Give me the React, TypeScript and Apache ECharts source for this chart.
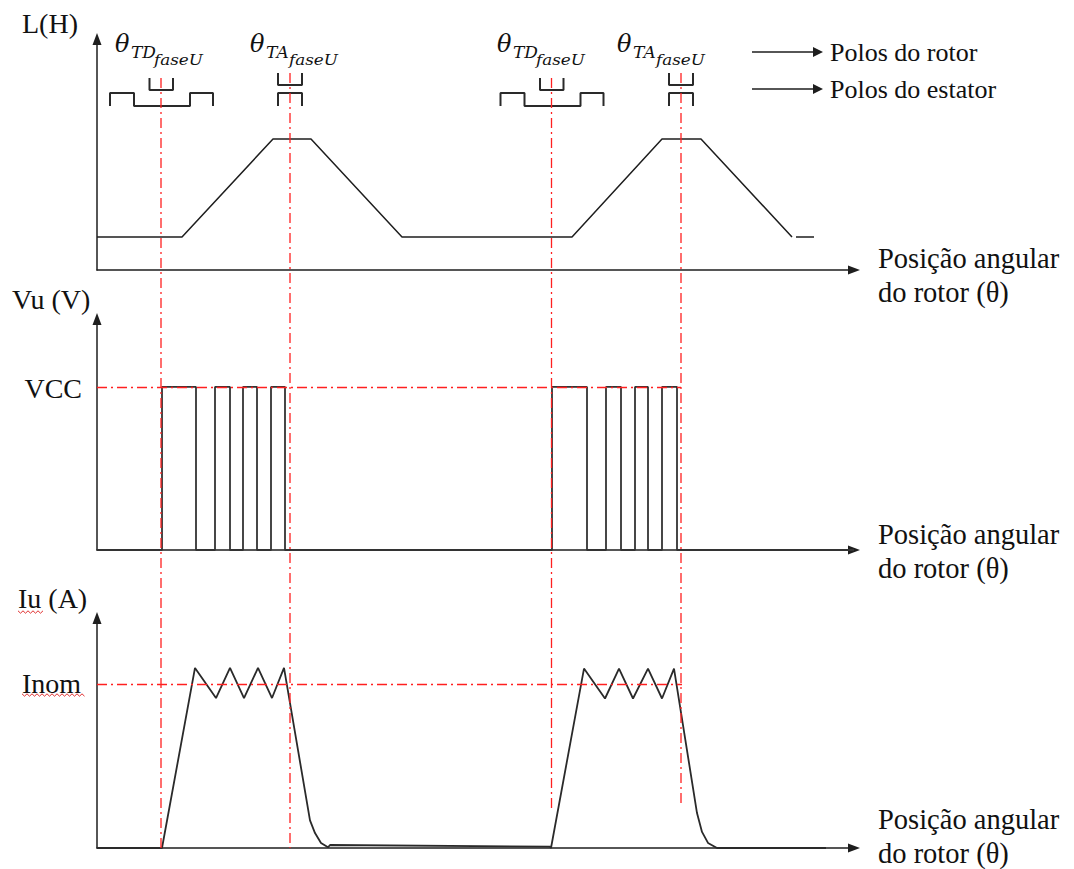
import React, { useEffect, useRef } from "react";
import * as echarts from "echarts";

// ---------- data (x in angular units, y in panel units 0..10) ----------
const X_MAX = 378.5;
const Y_MAX = 10;

// Inductance L(H)
const lTheta = [0, 42.5, 88, 107, 152.5, 237.5, 282.5, 302, 347.5];
const lValue = [1.43, 1.43, 5.67, 5.67, 1.43, 1.43, 5.67, 5.67, 1.43];
const lTailTheta = [349.5, 358.5];
const lTailValue = [1.43, 1.43];

// Phase voltage Vu (V): PWM pulse edges
const VCC = 7.06;
const pulseRise = [32.5, 59, 73, 87, 227.5, 254.5, 269, 282.5];
const pulseFall = [49.5, 66.5, 80, 94, 245, 262, 275.5, 290];

// Phase current Iu (A)
const INOM = 7.13;
const currentTheta = [
  0, 32.5, 49, 59.5, 66.5, 73.5, 80.5, 87.5, 93.5, 106.5, 109, 112, 115.5,
  116.5, 226.5, 227, 243.5, 254, 261, 268, 275.5, 282.5, 288.5, 300, 302.5,
  305.5, 310, 364.5,
];
const currentValue = [
  0, 0, 7.83, 6.52, 7.83, 6.52, 7.83, 6.52, 7.83, 1.2, 0.65, 0.22, 0.03,
  0.13, 0.06, 0, 7.8, 6.5, 7.8, 6.5, 7.8, 6.5, 7.8, 1.52, 0.7, 0.22, 0, 0,
];

// Switch-on (TD) and switch-off (TA) angles
const tdTheta = [32, 227.25];
const taTheta = [96.5, 292];

// ---------- layout ----------
const LEFT = 97;
const WIDTH = 757;
const tdGuideSpan = [
  [78, 848],
  [78, 812],
];
const taGuideSpan = [
  [73, 848],
  [73, 807],
];

const serif = "'Liberation Serif', 'Times New Roman', serif";
const mathFont = "'DejaVu Serif', serif";
const black = "#1e1e1e";
const red = "#ff2020";
const redDash = { color: red, width: 1.3, type: [10, 4, 2, 4] as number[] };
const axisLine = { color: black, width: 1.5 };

function zip(xs: number[], ys: number[]) {
  return xs.map((x, i) => [x, ys[i]]);
}

function voltageData() {
  const d: number[][] = [[0, 0]];
  pulseRise.forEach((r, i) => {
    const f = pulseFall[i];
    d.push([r, 0], [r, VCC], [f, VCC], [f, 0]);
  });
  d.push([X_MAX, 0]);
  return d;
}

function mkX(i: number, show: boolean) {
  return {
    type: "value",
    gridIndex: i,
    min: 0,
    max: X_MAX,
    show,
    axisLine: {
      show: true,
      onZero: false,
      symbol: ["none", "triangle"],
      symbolSize: [9, 12],
      lineStyle: axisLine,
    },
    axisTick: { show: false },
    axisLabel: { show: false },
    splitLine: { show: false },
  };
}
function mkY(i: number) {
  return {
    type: "value",
    gridIndex: i,
    min: 0,
    max: Y_MAX,
    axisLine: {
      show: true,
      onZero: false,
      symbol: ["none", "triangle"],
      symbolSize: [9, 12],
      lineStyle: axisLine,
    },
    axisTick: { show: false },
    axisLabel: { show: false },
    splitLine: { show: false },
  };
}

const lineBase = {
  type: "line",
  symbol: "none",
  showSymbol: false,
  silent: true,
  z: 3,
};

function txt(
  text: string,
  x: number,
  y: number,
  size: number,
  opts: any = {}
) {
  const { align = "left", family = serif, italic = false, scaleX = 1 } = opts;
  return {
    type: "text",
    x,
    y,
    scaleX,
    silent: true,
    style: {
      text,
      fontFamily: family,
      fontSize: size,
      fontStyle: italic ? "italic" : "normal",
      fill: "#111",
      align,
      textAlign: align,
      verticalAlign: "middle",
      textVerticalAlign: "middle",
    },
  };
}

function squiggle(x0: number, x1: number, y: number) {
  const pts: number[][] = [];
  let up = true;
  for (let x = x0; x <= x1; x += 2.5) {
    pts.push([x, up ? y - 1.2 : y + 1.2]);
    up = !up;
  }
  return {
    type: "polyline",
    silent: true,
    shape: { points: pts },
    style: { stroke: "#e03030", lineWidth: 1, fill: null },
  };
}

function arrowLegend(y: number, label: string) {
  return [
    {
      type: "line",
      silent: true,
      shape: { x1: 752, y1: y, x2: 815, y2: y },
      style: { stroke: black, lineWidth: 1.4 },
    },
    {
      type: "polygon",
      silent: true,
      shape: {
        points: [
          [813, y - 5],
          [823, y],
          [813, y + 5],
        ],
      },
      style: { fill: black },
    },
    txt(label, 830, y, 26),
  ];
}

function thetaLabel(x: number, sub: string) {
  return [
    txt("θ", x, 44, 24, { family: mathFont, italic: true }),
    txt(sub, x + 16, 52, 17, { family: mathFont, italic: true }),
    txt("faseU", x + 39, 60, 14, { family: mathFont, italic: true, scaleX: 1.2 }),
  ];
}

function buildOption() {
  const series: any[] = [];

  series.push({
    ...lineBase,
    xAxisIndex: 0,
    yAxisIndex: 0,
    data: zip(lTheta, lValue),
    lineStyle: { color: black, width: 1.5 },
  });
  series.push({
    ...lineBase,
    xAxisIndex: 0,
    yAxisIndex: 0,
    data: zip(lTailTheta, lTailValue),
    lineStyle: { color: black, width: 1.5 },
  });

  series.push({
    ...lineBase,
    xAxisIndex: 1,
    yAxisIndex: 1,
    data: voltageData(),
    lineStyle: { color: "#333", width: 1.8 },
    markLine: {
      silent: true,
      symbol: ["none", "none"],
      label: { show: false },
      lineStyle: redDash,
      data: [[{ coord: [0, VCC] }, { coord: [taTheta[1], VCC] }]],
    },
  });

  series.push({
    ...lineBase,
    xAxisIndex: 2,
    yAxisIndex: 2,
    data: zip(currentTheta, currentValue),
    lineStyle: { color: "#2a2a2a", width: 1.8 },
    markLine: {
      silent: true,
      symbol: ["none", "none"],
      label: { show: false },
      lineStyle: redDash,
      data: [[{ coord: [0, INOM] }, { coord: [taTheta[1] + 0.5, INOM] }]],
    },
  });

  // vertical guides (overlay grid, y = page pixel)
  tdTheta.forEach((t, i) => {
    series.push({
      ...lineBase,
      z: 4,
      xAxisIndex: 3,
      yAxisIndex: 3,
      data: [
        [t, tdGuideSpan[i][0]],
        [t, tdGuideSpan[i][1]],
      ],
      lineStyle: redDash,
    });
  });
  taTheta.forEach((t, i) => {
    series.push({
      ...lineBase,
      z: 4,
      xAxisIndex: 3,
      yAxisIndex: 3,
      data: [
        [t, taGuideSpan[i][0]],
        [t, taGuideSpan[i][1]],
      ],
      lineStyle: redDash,
    });
  });

  // pole sketches
  const poleStyle = { color: "#2a2a2a", width: 2 };
  tdTheta.forEach((c) => {
    series.push({
      ...lineBase,
      xAxisIndex: 3,
      yAxisIndex: 3,
      data: [
        [c - 25.5, 106],
        [c - 25.5, 93],
        [c - 13.5, 93],
        [c - 13.5, 106],
        [c + 14.5, 106],
        [c + 14.5, 93],
        [c + 26, 93],
        [c + 26, 106],
      ],
      lineStyle: poleStyle,
    });
    series.push({
      ...lineBase,
      xAxisIndex: 3,
      yAxisIndex: 3,
      data: [
        [c - 5.75, 78],
        [c - 5.75, 90],
        [c + 6, 90],
        [c + 6, 78],
      ],
      lineStyle: poleStyle,
    });
  });
  taTheta.forEach((c) => {
    series.push({
      ...lineBase,
      xAxisIndex: 3,
      yAxisIndex: 3,
      data: [
        [c - 6, 73],
        [c - 6, 85],
        [c + 6, 85],
        [c + 6, 73],
      ],
      lineStyle: poleStyle,
    });
    series.push({
      ...lineBase,
      xAxisIndex: 3,
      yAxisIndex: 3,
      data: [
        [c - 6, 106],
        [c - 6, 93],
        [c + 6, 93],
        [c + 6, 106],
      ],
      lineStyle: poleStyle,
    });
  });

  const graphic: any[] = [
    txt("L(H)", 22, 23, 28),
    txt("Vu (V)", 12, 299, 28),
    txt("VCC", 82, 388, 28, { align: "right" }),
    txt("Iu (A)", 18, 598, 28),
    txt("Inom", 22, 683, 28),
    squiggle(18, 45, 612),
    squiggle(22, 86, 695),
    txt("Posição angular", 878, 258, 28.5),
    txt("do rotor (θ)", 878, 292, 28.5),
    txt("Posição angular", 878, 534, 28.5),
    txt("do rotor (θ)", 878, 568, 28.5),
    txt("Posição angular", 878, 819, 28.5),
    txt("do rotor (θ)", 878, 853, 28.5),
    ...arrowLegend(52, "Polos do rotor"),
    ...arrowLegend(89, "Polos do estator"),
    ...thetaLabel(115, "TD"),
    ...thetaLabel(250, "TA"),
    ...thetaLabel(497, "TD"),
    ...thetaLabel(617, "TA"),
  ];

  return {
    animation: false,
    backgroundColor: "#fff",
    grid: [
      { left: LEFT, top: 39, width: WIDTH, height: 231 },
      { left: LEFT, top: 319, width: WIDTH, height: 231 },
      { left: LEFT, top: 618, width: WIDTH, height: 230 },
      { left: LEFT, top: 0, width: WIDTH, height: 869 },
    ],
    xAxis: [mkX(0, true), mkX(1, true), mkX(2, true), mkX(3, false)],
    yAxis: [
      mkY(0),
      mkY(1),
      mkY(2),
      {
        type: "value",
        gridIndex: 3,
        min: 0,
        max: 869,
        inverse: true,
        show: false,
      },
    ],
    series,
    graphic,
  };
}

export default function App() {
  const ref = useRef<HTMLDivElement>(null);
  useEffect(() => {
    const chart = echarts.init(ref.current!, null, { renderer: "svg" });
    chart.setOption(buildOption() as any);
    return () => chart.dispose();
  }, []);
  return (
    <div
      ref={ref}
      style={{
        position: "fixed",
        left: 0,
        top: 0,
        width: 1074,
        height: 869,
        background: "#fff",
      }}
    />
  );
}
